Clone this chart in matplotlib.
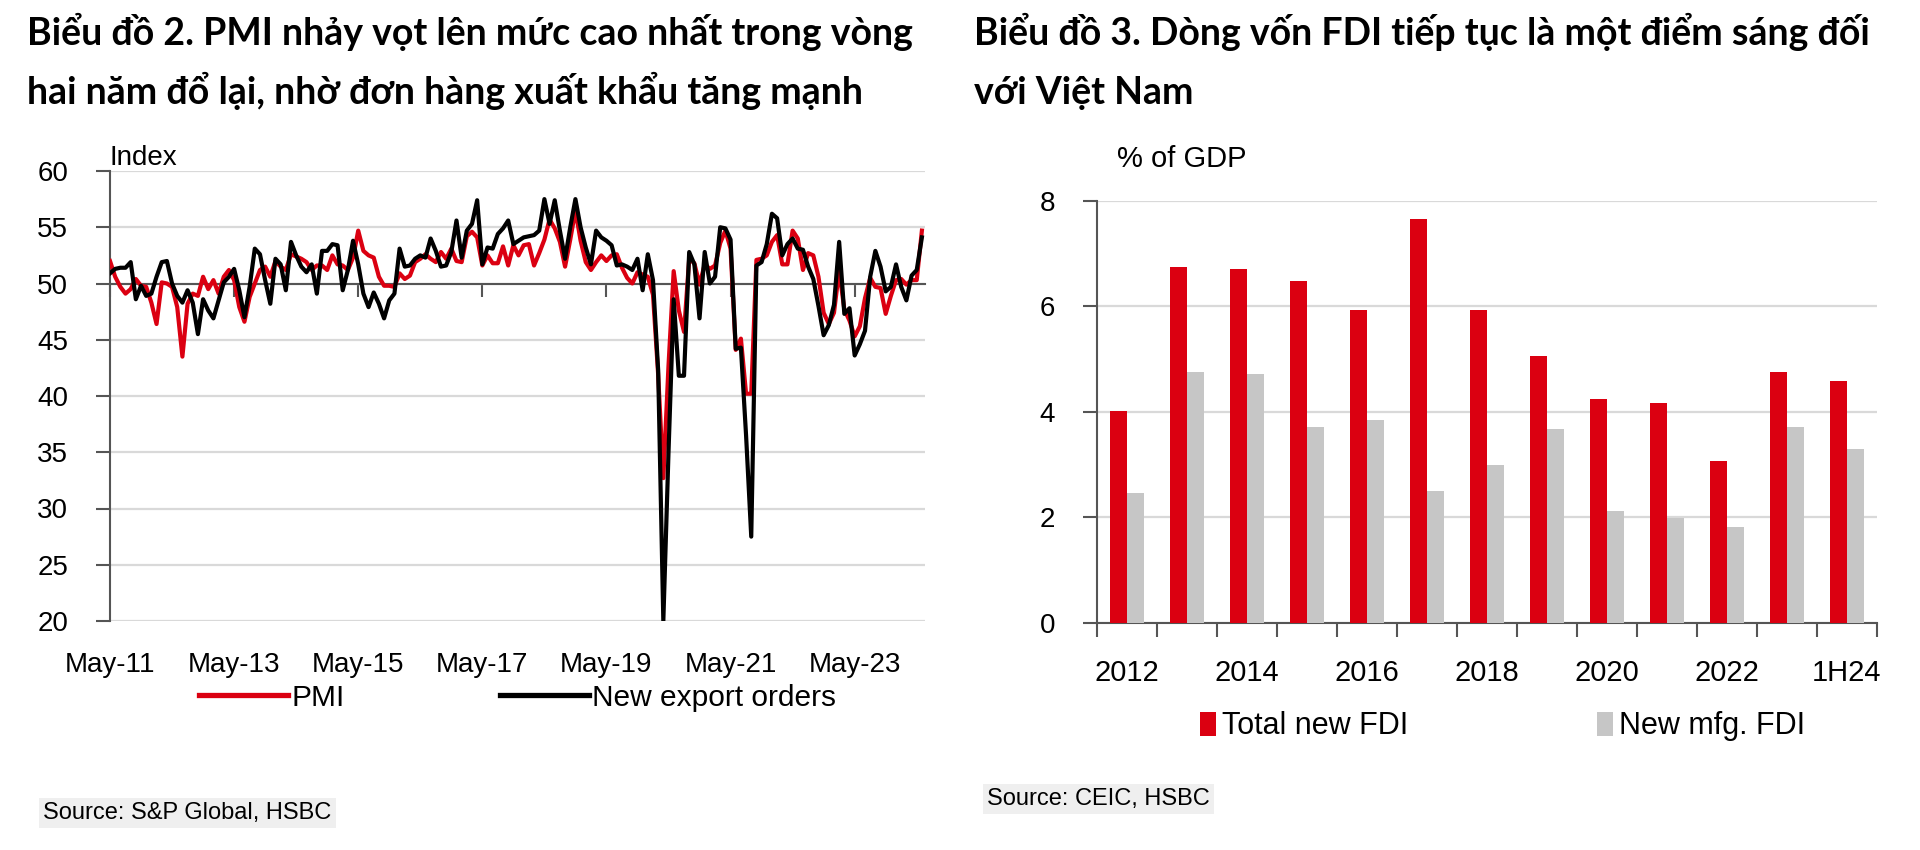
import numpy as np
import pandas as pd
import matplotlib
matplotlib.use('Agg')
import matplotlib.pyplot as plt
from matplotlib import font_manager

# --- data -------------------------------------------------------------
months = pd.date_range('2011-05-01', '2024-06-01', freq='MS')

pmi = [
    52.0, 50.6, 49.7, 49.1, 49.5, 50.4, 49.8, 49.7, 48.3, 46.4, 50.1, 50.0,
    49.7, 47.9, 43.5, 48.2, 49.1, 48.9, 50.6, 49.5, 50.3, 49.1, 50.6, 51.2,
    50.3, 47.9, 46.6, 48.8, 50.0, 51.2, 51.5, 50.6, 52.0, 51.5, 51.2, 52.6,
    52.4, 52.2, 51.9, 51.2, 51.6, 51.6, 51.2, 52.5, 51.7, 51.6, 51.2, 52.3,
    54.7, 52.9, 52.5, 52.3, 50.6, 49.8, 49.8, 49.7, 50.9, 50.4, 50.7, 51.9,
    52.2, 52.6, 52.2, 51.9, 52.8, 52.2, 53.1, 52.0,
    51.9, 54.2, 54.6, 54.1, 51.6, 52.5, 51.8, 51.8, 53.3, 51.6, 53.4, 52.5,
    53.4, 53.5, 51.6, 52.7, 53.9, 55.7, 54.9, 53.7, 51.5, 53.9, 56.5, 53.8,
    51.9, 51.2, 51.9, 52.5, 52.0, 52.5, 52.6, 51.4, 50.5, 50.0, 51.0, 50.8,
    50.6, 49.0, 41.9, 32.7, 42.7, 51.1, 47.6, 45.7, 52.2, 51.8, 49.9, 51.7,
    51.3, 51.6, 53.6, 54.7, 53.1, 44.1, 45.1, 40.2, 40.2, 52.1, 52.2, 52.5,
    53.7, 54.3, 51.7, 51.7, 54.7, 54.0, 51.2, 52.7, 52.5, 50.6, 47.4, 46.4,
    47.4, 51.2, 47.7, 46.7, 45.3, 46.2, 48.7, 50.5, 49.7, 49.6, 47.3, 48.9,
    50.3, 50.4, 49.9, 50.3, 50.3, 54.7,
]

export_orders = [
    50.9, 51.3, 51.4, 51.4, 51.9, 48.6, 49.8, 48.9, 49.1, 50.6, 51.9, 52.0,
    50.0, 48.9, 48.3, 49.4, 48.3, 45.5, 48.6, 47.6, 46.9, 48.5, 50.1, 50.6,
    51.3, 49.4, 47.0, 49.7, 53.1, 52.6, 50.3, 48.2, 52.2, 51.7, 49.4, 53.7,
    52.5, 51.5, 51.0, 51.7, 49.1, 52.9, 52.9, 53.5, 53.4, 49.4, 51.2, 53.8,
    51.7, 49.1, 47.9, 49.2, 48.2, 46.9, 48.5, 49.1, 53.1, 51.5, 51.6, 52.2,
    52.5, 52.3, 54.0, 52.9, 51.5, 51.6, 52.8, 55.6,
    52.3, 54.7, 55.3, 57.4, 51.7, 53.2, 53.1, 54.4, 54.9, 55.6, 53.5, 53.8,
    54.1, 54.2, 54.3, 54.7, 57.5, 55.3, 57.4, 54.7, 52.2, 55.0, 57.5, 55.0,
    53.2, 51.7, 54.7, 54.1, 53.8, 53.4, 51.6, 51.7, 51.5, 51.2, 52.2, 49.4,
    52.6, 50.3, 42.3, 20.0, 35.0, 48.6, 41.8, 41.8, 52.8, 51.7, 46.9, 52.8,
    50.0, 50.6, 55.0, 54.9, 53.9, 44.2, 44.3, 36.5, 27.5, 51.6, 51.9, 53.5,
    56.2, 55.8, 52.5, 53.5, 54.0, 53.1, 53.0, 51.5, 50.4, 48.0, 45.4, 46.3,
    48.1, 53.7, 47.3, 47.8, 43.6, 44.6, 45.8, 50.6, 52.9, 51.5, 49.3, 49.7,
    51.7, 49.7, 48.5, 50.7, 51.2, 54.1,
]

fdi_years = ['2012', '2013', '2014', '2015', '2016', '2017', '2018',
             '2019', '2020', '2021', '2022', '2023', '1H24']
total_fdi = [4.02, 6.74, 6.70, 6.48, 5.92, 7.65, 5.92, 5.06, 4.24, 4.16, 3.07, 4.76, 4.59]
mfg_fdi = [2.47, 4.76, 4.72, 3.72, 3.85, 2.50, 2.99, 3.68, 2.12, 1.99, 1.82, 3.72, 3.29]

# --- style ------------------------------------------------------------
names = {f.name for f in font_manager.fontManager.ttflist}
if 'Liberation Sans Narrow' in names:
    FONT, FS = 'Liberation Sans Narrow', 23
else:
    FONT, FS = 'Liberation Sans', 20
TITLE_FONT = ['Lato', 'Noto Sans', 'DejaVu Sans']
TFS = 27

RED = '#db0011'
GREY = '#c6c6c6'
AXIS = '#555555'
GRID = '#d9d9d9'

W, H = 1920, 850
fig = plt.figure(figsize=(W / 100, H / 100), dpi=100)


def px_axes(left, top, right, bottom):
    return fig.add_axes([left / W, 1 - bottom / H, (right - left) / W, (bottom - top) / H])


# titles
fig.text(27 / W, 1 - 45 / H, 'Biểu đồ 2. PMI nhảy vọt lên mức cao nhất trong vòng',
         family=TITLE_FONT, weight='bold', fontsize=TFS, va='baseline')
fig.text(27 / W, 1 - 104 / H, 'hai năm đổ lại, nhờ đơn hàng xuất khẩu tăng mạnh',
         family=TITLE_FONT, weight='bold', fontsize=TFS, va='baseline')
fig.text(974 / W, 1 - 45 / H, 'Biểu đồ 3. Dòng vốn FDI tiếp tục là một điểm sáng đối',
         family=TITLE_FONT, weight='bold', fontsize=TFS, va='baseline')
fig.text(974 / W, 1 - 104 / H, 'với Việt Nam',
         family=TITLE_FONT, weight='bold', fontsize=TFS, va='baseline')

# --- left: PMI lines --------------------------------------------------
ax1 = px_axes(110, 171, 925, 621)
x = np.arange(len(months))
ax1.plot(x, pmi, color=RED, lw=3.0, label='PMI', zorder=3)
ax1.plot(x, export_orders, color='black', lw=3.0, label='New export orders', zorder=4)

ax1.set_ylim(20, 60)
ax1.set_xlim(0, 157.6)
ax1.set_yticks(np.arange(20, 61, 5))
ax1.yaxis.grid(True, color=GRID, lw=1.6)
ax1.set_axisbelow(True)
for s in ['top', 'right']:
    ax1.spines[s].set_visible(False)
ax1.spines['left'].set_color(AXIS)
ax1.spines['left'].set_linewidth(1.5)
ax1.spines['bottom'].set_position(('data', 50))
ax1.spines['bottom'].set_color(AXIS)
ax1.spines['bottom'].set_linewidth(1.5)
ax1.spines['bottom'].set_zorder(2)
ax1.tick_params(axis='y', direction='out', length=10, width=1.5, color=AXIS,
                pad=20, labelsize=FS, labelfontfamily=FONT)
tick_pos = x[::24]
ax1.set_xticks(tick_pos)
ax1.tick_params(axis='x', direction='out', length=9, width=1.5, color=AXIS, labelbottom=False)

sec = ax1.secondary_xaxis(0)
sec.set_xticks(tick_pos, [d.strftime('%b-%y') for d in months[::24]])
sec.tick_params(length=0, pad=22, labelsize=FS, labelfontfamily=FONT)
sec.spines['bottom'].set_visible(False)

ax1.text(0.0, 1.0, 'Index', transform=ax1.transAxes, family=FONT, fontsize=FS,
         ha='left', va='bottom')

leg1 = ax1.legend(loc='center', bbox_to_anchor=(0.5, -0.17), ncol=2, frameon=False,
                  prop={'family': FONT, 'size': FS + 1.5}, handlelength=3.0,
                  handletextpad=0.1, columnspacing=5.2, borderaxespad=0)
for line in leg1.get_lines():
    line.set_linewidth(3.8)

fig.text(43 / W, 1 - 813 / H, 'Source: S&P Global, HSBC', family=FONT, fontsize=FS - 3,
         va='center', ha='left',
         bbox=dict(facecolor='#efefef', edgecolor='none', pad=3))

# --- right: FDI bars --------------------------------------------------
ax2 = px_axes(1097, 200.7, 1877, 623)
pos = np.arange(len(fdi_years))
bw = 0.28
ax2.bar(pos - bw / 2, total_fdi, width=bw, color=RED, label='Total new FDI', zorder=3)
ax2.bar(pos + bw / 2, mfg_fdi, width=bw, color=GREY, label='New mfg. FDI', zorder=3)

ax2.set_ylim(0, 8)
ax2.set_xlim(-0.5, len(fdi_years) - 0.5)
ax2.set_yticks([0, 2, 4, 6, 8])
ax2.yaxis.grid(True, color=GRID, lw=1.6)
ax2.set_axisbelow(True)
for s in ['top', 'right']:
    ax2.spines[s].set_visible(False)
for s in ['left', 'bottom']:
    ax2.spines[s].set_color(AXIS)
    ax2.spines[s].set_linewidth(1.5)
ax2.tick_params(axis='y', direction='out', length=10, width=1.5, color=AXIS,
                pad=20, labelsize=FS, labelfontfamily=FONT)
ax2.set_xticks(pos[::2], [fdi_years[i] for i in pos[::2]])
ax2.set_xticks(np.arange(-0.5, len(fdi_years)), minor=True)
ax2.tick_params(axis='x', which='major', length=0, pad=26, labelsize=FS + 1,
                labelfontfamily=FONT)
ax2.tick_params(axis='x', which='minor', direction='out', length=10, width=1.5, color=AXIS)

ax2.text(20 / 780, 1 + 28 / 422.3, '% of GDP', transform=ax2.transAxes, family=FONT,
         fontsize=FS + 1, ha='left', va='bottom')

ax2.legend(loc='center', bbox_to_anchor=(0.52, -0.245), ncol=2, frameon=False,
           prop={'family': FONT, 'size': FS + 2}, handlelength=0.5, handleheight=0.8,
           handletextpad=0.2, columnspacing=6.2, borderaxespad=0)

fig.text(987 / W, 1 - 799 / H, 'Source: CEIC, HSBC', family=FONT, fontsize=FS - 3,
         va='center', ha='left',
         bbox=dict(facecolor='#efefef', edgecolor='none', pad=3))

fig.savefig('out.png', dpi=100, facecolor='white')
